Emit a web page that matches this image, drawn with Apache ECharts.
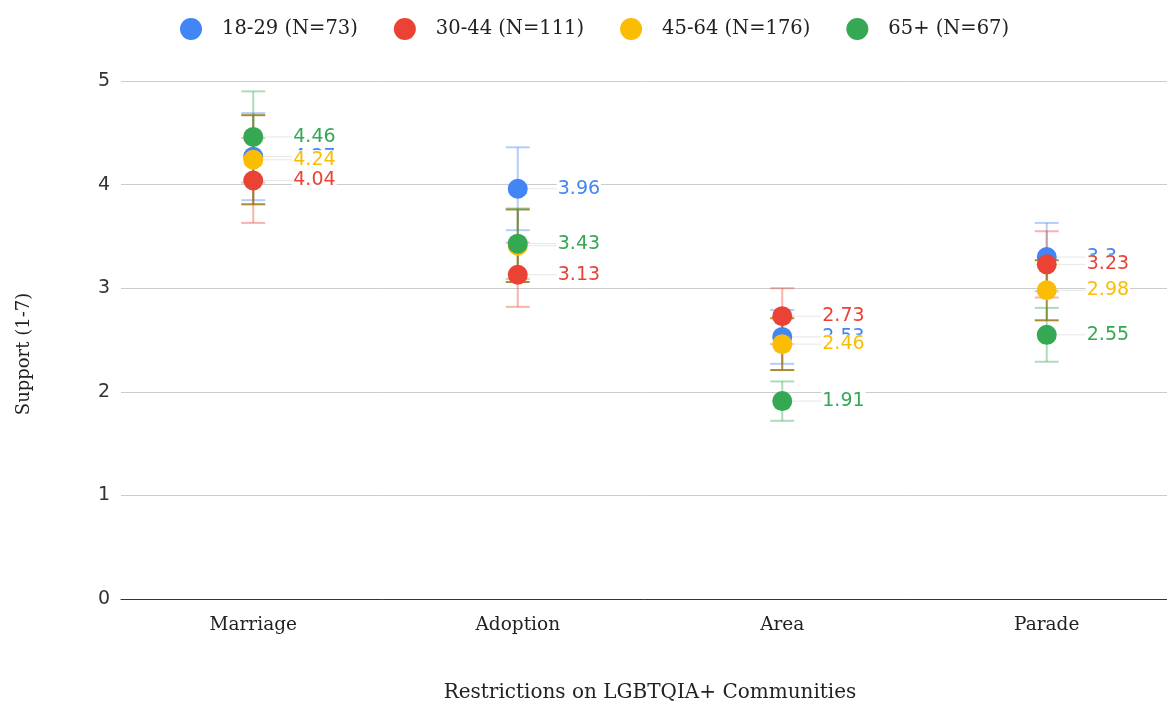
<!DOCTYPE html>
<html>
<head>
<meta charset="utf-8">
<script src="https://cdn.jsdelivr.net/npm/echarts@6/dist/echarts.min.js"></script>
<style>
  html, body { margin: 0; padding: 0; background: #fff; }
  #chartWrap { width: 1167px; height: 702px; }
</style>
</head>
<body>
<div id="chartWrap"></div>
<script>
// categories and groups
const categories = ['Marriage', 'Adoption', 'Area', 'Parade'];
const groupNames = ['18-29 (N=73)', '30-44 (N=111)', '45-64 (N=176)', '65+ (N=67)'];
const yTicks = [0, 1, 2, 3, 4, 5];

// means per age group
const young = [4.27, 3.96, 2.53, 3.3];
const adult = [4.04, 3.13, 2.73, 3.23];
const middle = [4.24, 3.41, 2.46, 2.98];
const senior = [4.46, 3.43, 1.91, 2.55];

// half width of error bars
const youngErr = [0.42, 0.40, 0.26, 0.33];
const adultErr = [0.41, 0.31, 0.27, 0.32];
const middleErr = [0.43, 0.35, 0.25, 0.29];
const seniorErr = [0.44, 0.34, 0.19, 0.26];

const colors = ['#4285F4', '#EA4335', '#FBBC04', '#34A853'];
const errColors = ['rgba(66,133,244,0.4)', 'rgba(234,67,53,0.4)', 'rgba(156,118,20,0.85)', 'rgba(52,168,83,0.4)'];

const means = [young, adult, middle, senior];
const errs = [youngErr, adultErr, middleErr, seniorErr];

const myChart = echarts.init(document.getElementById('chartWrap'));

let series = [];

// error bars first so dots sit on top
means.forEach(function (vals, i) {
    series.push({
        type: 'custom',
        name: groupNames[i] + ' err',
        z: 2,
        silent: true,
        data: vals.map(function (v, k) { return [k, v - errs[i][k], v + errs[i][k]]; }),
        renderItem: function (params, api) {
            const lo = api.coord([api.value(0), api.value(1)]);
            const hi = api.coord([api.value(0), api.value(2)]);
            const half = 12;
            const style = {stroke: errColors[i], lineWidth: 2};
            return {
                type: 'group',
                children: [
                    {type: 'line', shape: {x1: lo[0], y1: lo[1], x2: hi[0], y2: hi[1]}, style: style},
                    {type: 'line', shape: {x1: hi[0] - half, y1: hi[1], x2: hi[0] + half, y2: hi[1]}, style: style},
                    {type: 'line', shape: {x1: lo[0] - half, y1: lo[1], x2: lo[0] + half, y2: lo[1]}, style: style}
                ]
            };
        }
    });
});

means.forEach(function (vals, i) {
    series.push({
        type: 'scatter',
        name: groupNames[i],
        z: 3,
        symbolSize: 20,
        itemStyle: {color: colors[i], opacity: 1},
        data: vals,
        label: {
            show: true,
            position: 'right',
            distance: 5,
            color: colors[i],
            backgroundColor: '#fff',
            padding: [0, 1],
            fontFamily: 'DejaVu Sans, sans-serif',
            fontSize: 19,
            formatter: function (p) { return String(p.value); }
        },
        labelLayout: {dx: 24},
        labelLine: {show: true, lineStyle: {color: '#e6e6e6', width: 1}}
    });
});

myChart.setOption({
    color: colors,
    animation: false,
    legend: {
        top: 13,
        left: 175,
        itemWidth: 22,
        itemHeight: 22,
        itemGap: 36,
        icon: 'circle',
        data: groupNames,
        textStyle: {fontFamily: 'DejaVu Serif, serif', fontSize: 19.5, color: '#222', padding: [0, 0, 0, 15]}
    },
    grid: {left: 121, width: 1058, top: 81, height: 518, outerBoundsMode: 'none'},
    xAxis: {
        type: 'category',
        data: categories,
        name: 'Restrictions on LGBTQIA+ Communities',
        nameLocation: 'middle',
        nameGap: 84,
        nameTextStyle: {fontFamily: 'DejaVu Serif, serif', fontSize: 20, color: '#222'},
        axisLine: {lineStyle: {color: '#333', width: 1}},
        axisTick: {show: false},
        axisLabel: {fontFamily: 'DejaVu Serif, serif', fontSize: 18.5, color: '#222', margin: 17}
    },
    yAxis: {
        type: 'value',
        min: yTicks[0],
        max: yTicks[yTicks.length - 1],
        interval: 1,
        name: 'Support (1-7)',
        nameLocation: 'middle',
        nameGap: 88,
        nameTextStyle: {fontFamily: 'DejaVu Serif, serif', fontSize: 18, color: '#222', padding: [0, 28, 0, 0]},
        axisLine: {show: false},
        axisTick: {show: false},
        splitLine: {lineStyle: {color: '#cccccc'}},
        axisLabel: {fontFamily: 'DejaVu Sans, sans-serif', fontSize: 19, color: '#333', margin: 11}
    },
    series: series
});
</script>
</body>
</html>
